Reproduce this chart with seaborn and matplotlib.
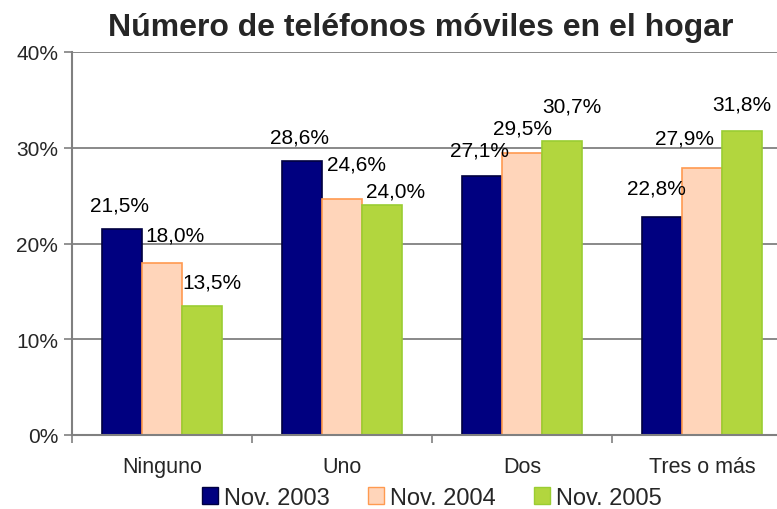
import pandas as pd
import seaborn as sns
import matplotlib.pyplot as plt
from matplotlib.patches import Patch

categorias = ["Ninguno", "Uno", "Dos", "Tres o más"]
series = ["Nov. 2003", "Nov. 2004", "Nov. 2005"]
nov_2003 = [21.5, 28.6, 27.1, 22.8]
nov_2004 = [18.0, 24.6, 29.5, 27.9]
nov_2005 = [13.5, 24.0, 30.7, 31.8]

# label nudges (pixels) so labels sit like the excel original
offsets = [
    [(-2, 19), (-2, 19), (-2, 20), (-6, 23)],
    [(13, 22), (14, 30), (0, 19), (-18, 24)],
    [(10, 18), (14, 9), (10, 30), (0, 21)],
]

fill = ["#000080", "#FFD5BA", "#B2D63E"]
edge = ["#000040", "#FF9A50", "#9ACD32"]

df = pd.DataFrame({
    "cat": categorias * 3,
    "serie": [s for s in series for _ in categorias],
    "valor": nov_2003 + nov_2004 + nov_2005,
})

sns.set_theme(style="white")
plt.rcParams["font.family"] = ["Liberation Sans", "DejaVu Sans"]

fig = plt.figure(figsize=(7.77, 5.10), dpi=100)
ax = fig.add_axes([72 / 777, 74 / 510, 720 / 777, 383 / 510])

sns.barplot(data=df, x="cat", y="valor", hue="serie", order=categorias,
            hue_order=series, palette=fill, width=0.667, saturation=1,
            ax=ax, legend=False)

for i, cont in enumerate(ax.containers):
    for j, bar in enumerate(cont):
        bar.set_edgecolor(edge[i])
        bar.set_linewidth(1.2)
        dx, dy = offsets[i][j]
        val = cont.datavalues[j]
        ax.annotate(f"{val:.1f}%".replace(".", ","),
                    (bar.get_x() + bar.get_width() / 2, val),
                    xytext=(dx, dy), textcoords="offset pixels",
                    ha="center", va="baseline", fontsize=15, color="black")

ax.set_xlim(-0.5, 3.5)
ax.set_ylim(0, 40)
ax.set_yticks([0, 10, 20, 30, 40])
ax.set_yticklabels([f"{v}%" for v in [0, 10, 20, 30, 40]], fontsize=15)
ax.yaxis.grid(True, color="#808080", linewidth=1.3)
ax.set_axisbelow(True)
ax.tick_params(axis="y", which="major", left=True, length=6, width=1.2,
               color="#808080", pad=4)
ax.set_xticks([-0.5, 0.5, 1.5, 2.5, 3.5], minor=True)
ax.tick_params(axis="x", which="minor", bottom=True, length=6, width=1.2,
               color="#808080")
ax.tick_params(axis="x", which="major", length=0, pad=15, labelsize=15.5)
ax.set_xlabel("")
ax.set_ylabel("")
for s in ["top", "right"]:
    ax.spines[s].set_visible(False)
for s in ["left", "bottom"]:
    ax.spines[s].set_color("#808080")
    ax.spines[s].set_linewidth(1.5)

fig.text(421 / 777, 1 - 28 / 510, "Número de teléfonos móviles en el hogar",
         ha="center", va="center", fontsize=23, fontweight="bold")

handles = [Patch(facecolor=fill[k], edgecolor=edge[k], label=series[k])
           for k in range(3)]
fig.legend(handles=handles, loc="center", bbox_to_anchor=(432 / 777, 1 - 499 / 510),
           ncol=3, frameon=False, fontsize=17, handlelength=0.7,
           handleheight=0.7, handletextpad=0.25, columnspacing=1.6)

fig.savefig("out.png", dpi=100)
